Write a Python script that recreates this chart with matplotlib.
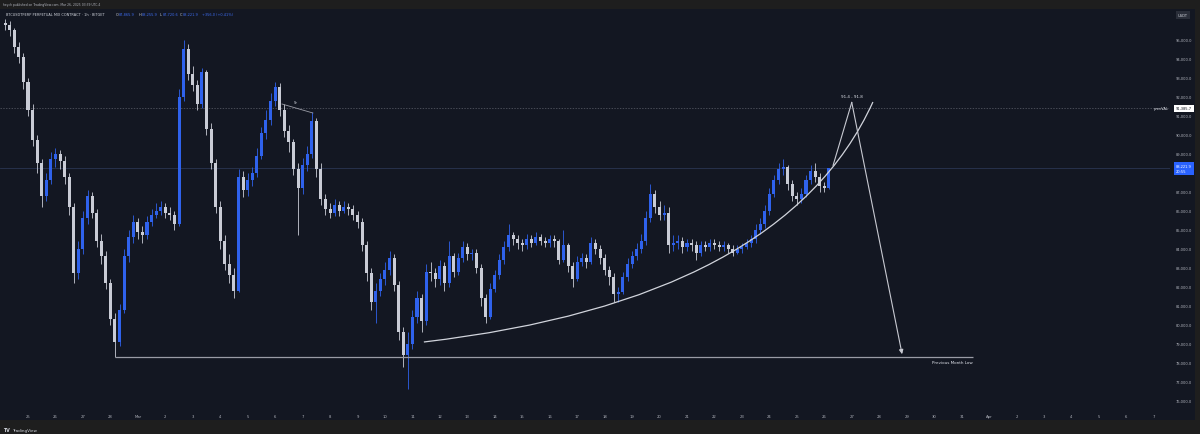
import matplotlib
matplotlib.use("Agg")
import matplotlib.pyplot as plt
import matplotlib.dates as mdates
from matplotlib.path import Path
from matplotlib.patches import PathPatch, Rectangle
from matplotlib.transforms import blended_transform_factory
import pandas as pd
import numpy as np

# ---------------- data (4h bars) ----------------
bar_start = "2025-02-24 04:00"
first_open = 95900
closes = [
    95800, 95500, 94600, 94100, 92800, 91300,
    89700, 88500, 86800, 87600, 88700, 89000,
    88600, 87800, 86200, 82700, 84000, 85600,
    86800, 85900, 84400, 83600, 82200, 80300,
    79100, 80800, 83600, 84600, 85400, 84900,
    84700, 85400, 85800, 86000, 86200, 85900,
    85800, 85300, 92000, 94500, 93200, 92600,
    91600, 93300, 90300, 88500, 86200, 84400,
    83200, 82600, 81800, 87800, 87100, 87600,
    88000, 88900, 90100, 90800, 91800, 92500,
    91300, 90200, 89600, 88200, 87200, 88400,
    89000, 90700, 88200, 86600, 86100, 85900,
    86300, 86000, 86200, 86100, 85800, 85400,
    84200, 82700, 81200, 81800, 82400, 82900,
    83500, 82100, 79600, 78400, 79000, 80400,
    81400, 80200, 82800, 82700, 82400, 83100,
    82200, 83600, 82800, 83500, 84100, 83700,
    83800, 83000, 81400, 80400, 81900, 82600,
    83400, 84100, 84700, 84500, 84300, 84200,
    84500, 84300, 84600, 84400, 84300, 84500,
    84400, 83400, 84200, 83100, 82400, 83300,
    83500, 83300, 84300, 84000, 83500, 82900,
    82500, 81600, 81700, 82500, 83200, 83600,
    84000, 84400, 85600, 86900, 86200, 85800,
    85900, 84200, 84300, 84400, 84100, 84300,
    84200, 83800, 84200, 84100, 84300, 84200,
    84100, 84200, 84000, 83800, 84000, 84100,
    84300, 84500, 85000, 85300, 86000, 86900,
    87600, 88200, 88300, 87400, 86800, 86600,
    86900, 87600, 88100, 87800, 87300, 87200,
    88221.9,
]
highs = [
    96100, 96000, 95600, 94900, 94300, 93000,
    91600, 90000, 88700, 88000, 89100, 89300,
    89200, 88900, 88000, 86400, 84400, 86000,
    87100, 87000, 86100, 84800, 83900, 82400,
    80600, 81100, 84000, 85000, 85800, 85600,
    85200, 85700, 86100, 86400, 86500, 86400,
    86200, 86000, 92400, 95000, 94800, 93600,
    92900, 93500, 93400, 90600, 88700, 86500,
    84700, 83700, 83000, 88200, 88100, 88000,
    88300, 89300, 90400, 91300, 92200, 92800,
    92700, 91600, 90500, 89800, 88500, 88800,
    89400, 91200, 90900, 88500, 86900, 86400,
    86600, 86500, 86500, 86400, 86300, 86000,
    85600, 84400, 83000, 82200, 82700, 83300,
    83900, 83700, 82300, 79900, 79600, 80800,
    81800, 81600, 83200, 83300, 83000, 83400,
    83300, 84400, 83800, 83800, 84400, 84300,
    84000, 84000, 83200, 81600, 82200, 82900,
    83700, 84400, 85300, 84900, 84700, 84500,
    84800, 84700, 84900, 84800, 84600, 84700,
    84700, 84500, 85000, 84300, 83300, 83600,
    83800, 83700, 84600, 84500, 84200, 83700,
    83100, 82700, 82000, 82800, 83500, 83900,
    84300, 84800, 86000, 87400, 87100, 86500,
    86300, 86200, 84700, 84700, 84600, 84500,
    84500, 84400, 84400, 84400, 84500, 84500,
    84400, 84400, 84300, 84200, 84200, 84300,
    84500, 84700, 85300, 85600, 86300, 87200,
    87900, 88500, 88700, 88400, 87600, 87000,
    87200, 87900, 88400, 88500, 88000, 87500,
    88255.9,
]
lows = [
    95500, 95200, 94300, 93800, 92400, 91000,
    89400, 88000, 86200, 86500, 87400, 88300,
    88200, 87400, 85800, 82200, 82400, 83700,
    85300, 85600, 84100, 83200, 81900, 80000,
    78300, 78900, 80600, 83300, 84300, 84500,
    84300, 84500, 85200, 85600, 85800, 85600,
    85500, 85000, 85200, 91800, 92900, 92300,
    91300, 91400, 90000, 88200, 85900, 84000,
    82900, 82200, 81400, 81700, 86700, 86800,
    87300, 87800, 88700, 89800, 90500, 91500,
    91000, 89900, 89100, 87900, 84700, 86900,
    88100, 88800, 87800, 86300, 85800, 85600,
    85700, 85700, 85900, 85800, 85500, 85100,
    83900, 82300, 80800, 80100, 81500, 82100,
    82600, 81800, 79200, 77800, 76600, 78700,
    80100, 79600, 80000, 82300, 82000, 82100,
    81800, 82000, 82500, 82600, 83300, 83400,
    83400, 82700, 81000, 80100, 80300, 81700,
    82400, 83200, 83900, 84200, 84000, 83900,
    84000, 84100, 84200, 84200, 84100, 84100,
    84100, 83200, 83300, 82800, 82000, 82300,
    83100, 83000, 83200, 83700, 83200, 82600,
    82100, 81200, 81200, 81600, 82300, 83000,
    83400, 83800, 84200, 85400, 85900, 85500,
    85500, 83800, 83900, 84000, 83800, 83900,
    83900, 83400, 83600, 83900, 83900, 84000,
    83900, 83900, 83800, 83600, 83700, 83800,
    84000, 84100, 84300, 84800, 85100, 85800,
    86700, 87400, 87900, 87100, 86500, 86300,
    86400, 86700, 87400, 87500, 87000, 87000,
    87150,
]

price_ticks = [76000, 77000, 78000, 79000, 80000, 81000, 82000, 83000, 84000,
               85000, 86000, 87000, 88000, 89000, 90000, 91000, 92000, 93000,
               94000, 95000]
date_ticks_start, date_ticks_end = "2025-02-25", "2025-04-07"
date_labels = ["25", "26", "27", "28", "Mar", "2", "3", "4", "5", "6", "7", "8",
               "9", "10", "11", "12", "13", "14", "15", "16", "17", "18", "19",
               "20", "21", "22", "23", "24", "25", "26", "27", "28", "29", "30",
               "31", "Apr", "2", "3", "4", "5", "6", "7"]

prev_val = 91385.7
last_price = 88221.9
prev_month_low = 78300
pml_span = ["2025-02-28 04:00", "2025-03-31 10:00"]
curve_times = ["2025-03-11 10:00", "2025-03-24 12:00", "2025-03-27 18:30"]
curve_prices = [79090, 81300, 91721]
path_times = ["2025-03-26 07:40", "2025-03-27 00:00", "2025-03-28 20:00"]
path_prices = [88384, 91700, 78447]
target_label = "91.4 - 91.8"
sr_times = ["2025-03-06 06:00", "2025-03-07 09:00"]
sr_prices = [91616, 91142]

# ---------------- figure ----------------
W, H = 1200, 435
fig = plt.figure(figsize=(W / 100, H / 100), dpi=100, facecolor="#1e1e1e")
fx = lambda px: px / W
fy = lambda py: 1 - py / H

BG = "#131722"
TXT = "#b2b5be"
UP = "#2f62ec"
DN = "#c9ccd6"

fig.patches.append(Rectangle((0, fy(421)), fx(1195), (421 - 10) / H,
                             transform=fig.transFigure, facecolor=BG,
                             edgecolor="none", zorder=-5))

ax = fig.add_axes([0, fy(409), fx(1170), (409 - 10) / H])
ax.set_facecolor("none")

t = mdates.date2num(pd.date_range(bar_start, periods=len(closes), freq="4h").to_pydatetime())
c = np.array(closes, float)
o = np.array([first_open] + closes[:-1], float)
hi = np.array(highs, float)
lo = np.array(lows, float)
up = c >= o
cols = np.where(up, UP, DN)

ax.vlines(t, lo, hi, colors=cols, lw=0.6, zorder=3)
ax.bar(t, np.maximum(np.abs(c - o), 40), bottom=np.minimum(o, c), width=0.11,
       color=cols, linewidth=0, zorder=3)

base = mdates.date2num(pd.Timestamp("2025-02-25").to_pydatetime())
ax.set_xlim(base - 1.02, base + 41.59)
ax.set_ylim(75616, 96616)

for s in ax.spines.values():
    s.set_visible(False)

ax.yaxis.tick_right()
ax.set_yticks(price_ticks)
ax.set_yticklabels([f"{v:,.1f}" for v in price_ticks])
ax.tick_params(axis="y", length=0, pad=4.3, labelsize=2.6, labelcolor=TXT)

dt = mdates.date2num(pd.date_range(date_ticks_start, date_ticks_end, freq="D").to_pydatetime())
ax.set_xticks(dt)
ax.set_xticklabels(date_labels)
ax.tick_params(axis="x", length=0, pad=4.0, labelsize=2.7, labelcolor=TXT)

# level lines
ax.axhline(prev_val, color="#5d606b", lw=0.5, ls=(0, (2, 2)), zorder=1)
ax.axhline(last_price, color="#2a3552", lw=0.6, zorder=1)

# drawings
d = lambda s: mdates.date2num(pd.Timestamp(s).to_pydatetime())
ax.hlines(prev_month_low, d(pml_span[0]), d(pml_span[1]), color="#9a9ca6", lw=0.9, zorder=4)
ax.text(d(pml_span[1]), prev_month_low - 150, "Previous Month Low", color="#e0e3eb",
        fontsize=3.0, ha="right", va="top", zorder=5)

verts = [(d(tt), pp) for tt, pp in zip(curve_times, curve_prices)]
ax.add_patch(PathPatch(Path(verts, [Path.MOVETO, Path.CURVE3, Path.CURVE3]),
                       facecolor="none", edgecolor="#d1d4dc", lw=0.9, zorder=4))

pt = [d(s) for s in path_times]
ax.plot(pt[:2], path_prices[:2], color="#c8cad2", lw=0.8, zorder=4)
ax.annotate("", xy=(pt[2], path_prices[2]), xytext=(pt[1], path_prices[1]),
            arrowprops=dict(arrowstyle="-|>,head_length=0.25,head_width=0.12",
                            color="#c8cad2", lw=0.8, shrinkA=0, shrinkB=0), zorder=4)
ax.text(pt[1], path_prices[1] + 250, target_label, color="#e0e3eb", fontsize=3.0,
        ha="center", va="bottom", zorder=5)

st = [d(s) for s in sr_times]
ax.plot(st, sr_prices, color="#9a9ca6", lw=0.6, zorder=4)
ax.text((st[0] + st[1]) / 2 - 0.05, sr_prices[0] + 20, "Sr", color="#e0e3eb",
        fontsize=2.6, ha="center", va="bottom", zorder=5)

# price tags on the scale
tr = blended_transform_factory(ax.transAxes, ax.transData)
xa = 1176 / 1170
ax.text(xa, prev_val, "91,385.7", transform=tr, fontsize=2.6, color="#131722",
        ha="left", va="center", clip_on=False, zorder=10,
        bbox=dict(boxstyle="square,pad=0.5", fc="white", ec="none"))
ax.text(1168 / 1170, prev_val, "prevVAL", transform=tr, fontsize=2.6, color="#e0e3eb",
        ha="right", va="center", clip_on=False, zorder=10)
ax.text(xa, last_price, "88,221.9\n20:55", transform=tr, fontsize=2.6, color="white",
        ha="left", va="center", clip_on=False, zorder=10, linespacing=1.3,
        bbox=dict(boxstyle="square,pad=0.6", fc="#2962ff", ec="none"))

# header / footer texts
fig.text(fx(1178), fy(16), "USDT", fontsize=2.6, color="#d1d4dc", ha="left", va="center",
         bbox=dict(boxstyle="square,pad=0.6", fc="#2a2e39", ec="none"))
fig.text(fx(3), fy(5), "heych published on TradingView.com, Mar 26, 2025 03:39 UTC-4",
         fontsize=2.2, color=TXT, ha="left", va="center")
fig.text(fx(6), fy(15), "BTCUSDTPERP PERPETUAL MIX CONTRACT · 1h · BITGET",
         fontsize=2.5, color="#d1d4dc", ha="left", va="center")
ohlc_parts = [(116, "O", "87,865.9"), (139, "H", "88,255.9"), (160, "L", "87,720.6"),
              (180, "C", "88,221.9")]
for px, k, v in ohlc_parts:
    fig.text(fx(px), fy(15), k, fontsize=2.5, color="#d1d4dc", ha="left", va="center")
    fig.text(fx(px + 3), fy(15), v, fontsize=2.5, color="#3d6cf0", ha="left", va="center")
fig.text(fx(202), fy(15), "+356.0 (+0.41%)", fontsize=2.5, color="#3d6cf0",
         ha="left", va="center")
fig.text(fx(3), fy(431), "TV", fontsize=3.4, weight="bold", color="#d1d4dc",
         ha="left", va="center")
fig.text(fx(12), fy(431), "TradingView", fontsize=3.0, color="#d1d4dc",
         ha="left", va="center")

fig.savefig("out.png", dpi=100, facecolor=fig.get_facecolor())
